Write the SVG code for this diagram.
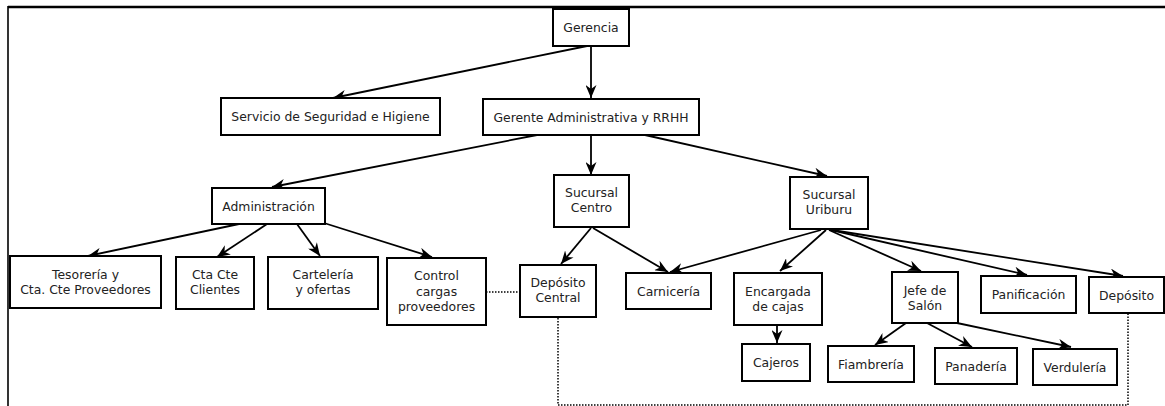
<svg xmlns="http://www.w3.org/2000/svg" width="1165" height="406" viewBox="0 0 1165 406">
<style>
.box{fill:#fff;stroke:#000;stroke-width:2}
.t{font-family:"DejaVu Sans",Verdana,sans-serif;font-size:12.4px;fill:#222;text-anchor:middle}
.c{fill:none;stroke:#000;stroke-width:1.8}
.d{fill:none;stroke:#000;stroke-width:1.5;stroke-dasharray:1.5,1.5}
</style>
<defs>
<marker id="ah" viewBox="0 0 13 11" refX="13" refY="5.5" markerWidth="13" markerHeight="11" markerUnits="userSpaceOnUse" orient="auto">
<path d="M0,0 L13,5.5 L0,11 L4,5.5 z" fill="#000"/>
</marker>
</defs>
<rect width="1165" height="406" fill="#fff"/>
<g id="frame">
<line x1="8" y1="7" x2="1165" y2="7" stroke="#000" stroke-width="2.5"/>
<line x1="8" y1="6" x2="8" y2="406" stroke="#000" stroke-width="1.6"/>
</g>
<g id="connectors">
<line class="c" x1="591" y1="46" x2="591" y2="98" marker-end="url(#ah)"/>
<line class="c" x1="587" y1="46" x2="333" y2="98" marker-end="url(#ah)"/>
<line class="c" x1="537" y1="135" x2="272" y2="187" marker-end="url(#ah)"/>
<line class="c" x1="591" y1="135" x2="591" y2="175" marker-end="url(#ah)"/>
<line class="c" x1="645" y1="135" x2="827" y2="176" marker-end="url(#ah)"/>
<line class="c" x1="239" y1="224" x2="88" y2="256" marker-end="url(#ah)"/>
<line class="c" x1="267" y1="224" x2="217" y2="257" marker-end="url(#ah)"/>
<line class="c" x1="297" y1="224" x2="320" y2="256" marker-end="url(#ah)"/>
<line class="c" x1="324" y1="223" x2="432" y2="257" marker-end="url(#ah)"/>
<line class="c" x1="591" y1="228" x2="561" y2="264" marker-end="url(#ah)"/>
<line class="c" x1="593" y1="228" x2="668" y2="272" marker-end="url(#ah)"/>
<line class="c" x1="821" y1="230" x2="670" y2="272" marker-end="url(#ah)"/>
<line class="c" x1="826" y1="230" x2="780" y2="271" marker-end="url(#ah)"/>
<line class="c" x1="829" y1="230" x2="921" y2="271" marker-end="url(#ah)"/>
<line class="c" x1="831" y1="230" x2="1027" y2="275" marker-end="url(#ah)"/>
<line class="c" x1="832" y1="230" x2="1123" y2="276" marker-end="url(#ah)"/>
<line class="c" x1="777" y1="325" x2="777" y2="343" marker-end="url(#ah)"/>
<line class="c" x1="906" y1="323" x2="875" y2="345" marker-end="url(#ah)"/>
<line class="c" x1="927" y1="323" x2="972" y2="347" marker-end="url(#ah)"/>
<line class="c" x1="957" y1="323" x2="1071" y2="347" marker-end="url(#ah)"/>
<line class="d" x1="486" y1="292" x2="519" y2="292"/>
<polyline class="d" points="558,318 558,405 1128,405 1128,313"/>
</g>
<g id="gerencia"><rect class="box" x="553" y="9" width="76" height="37"/><text class="t" x="591" y="32">Gerencia</text></g>
<g id="servicio"><rect class="box" x="221" y="98" width="219" height="37"/><text class="t" x="330.5" y="121">Servicio de Seguridad e Higiene</text></g>
<g id="gerente"><rect class="box" x="483" y="99" width="216" height="36"/><text class="t" x="591" y="121.5">Gerente Administrativa y RRHH</text></g>
<g id="administracion"><rect class="box" x="212" y="188" width="113" height="36"/><text class="t" x="268.5" y="210.5">Administración</text></g>
<g id="sucursal-centro"><rect class="box" x="554" y="175" width="75" height="52"/><text class="t" x="591.5" y="197">Sucursal</text><text class="t" x="591.5" y="212">Centro</text></g>
<g id="sucursal-uriburu"><rect class="box" x="790" y="177" width="78" height="52"/><text class="t" x="829" y="199">Sucursal</text><text class="t" x="829" y="214">Uriburu</text></g>
<g id="tesoreria"><rect class="box" x="10" y="256" width="151" height="52"/><text class="t" x="85.5" y="279">Tesorería y</text><text class="t" x="85.5" y="294">Cta. Cte Proveedores</text></g>
<g id="cta-cte-clientes"><rect class="box" x="176" y="257" width="78" height="52"/><text class="t" x="215" y="279">Cta Cte</text><text class="t" x="215" y="294">Clientes</text></g>
<g id="carteleria"><rect class="box" x="268" y="257" width="110" height="52"/><text class="t" x="323" y="279">Cartelería</text><text class="t" x="323" y="294">y ofertas</text></g>
<g id="control-cargas"><rect class="box" x="387" y="258" width="99" height="67"/><text class="t" x="436.5" y="280">Control</text><text class="t" x="436.5" y="296">cargas</text><text class="t" x="436.5" y="311">proveedores</text></g>
<g id="deposito-central"><rect class="box" x="520" y="265" width="76" height="52"/><text class="t" x="558" y="287">Depósito</text><text class="t" x="558" y="302">Central</text></g>
<g id="carniceria"><rect class="box" x="626" y="273" width="85" height="36"/><text class="t" x="668.5" y="295.5">Carnicería</text></g>
<g id="encargada"><rect class="box" x="734" y="273" width="88" height="52"/><text class="t" x="778" y="296">Encargada</text><text class="t" x="778" y="311">de cajas</text></g>
<g id="jefe-salon"><rect class="box" x="892" y="272" width="66" height="51"/><text class="t" x="925" y="295">Jefe de</text><text class="t" x="925" y="310">Salón</text></g>
<g id="panificacion"><rect class="box" x="981" y="276" width="95" height="37"/><text class="t" x="1028.5" y="299">Panificación</text></g>
<g id="deposito"><rect class="box" x="1089" y="277" width="75" height="36"/><text class="t" x="1126.5" y="299.5">Depósito</text></g>
<g id="cajeros"><rect class="box" x="742" y="344" width="68" height="37"/><text class="t" x="776" y="367">Cajeros</text></g>
<g id="fiambreria"><rect class="box" x="828" y="346" width="86" height="36"/><text class="t" x="871" y="368.5">Fiambrería</text></g>
<g id="panaderia"><rect class="box" x="935" y="348" width="82" height="36"/><text class="t" x="976" y="370.5">Panadería</text></g>
<g id="verduleria"><rect class="box" x="1033" y="349" width="84" height="36"/><text class="t" x="1075" y="371.5">Verdulería</text></g>
</svg>
